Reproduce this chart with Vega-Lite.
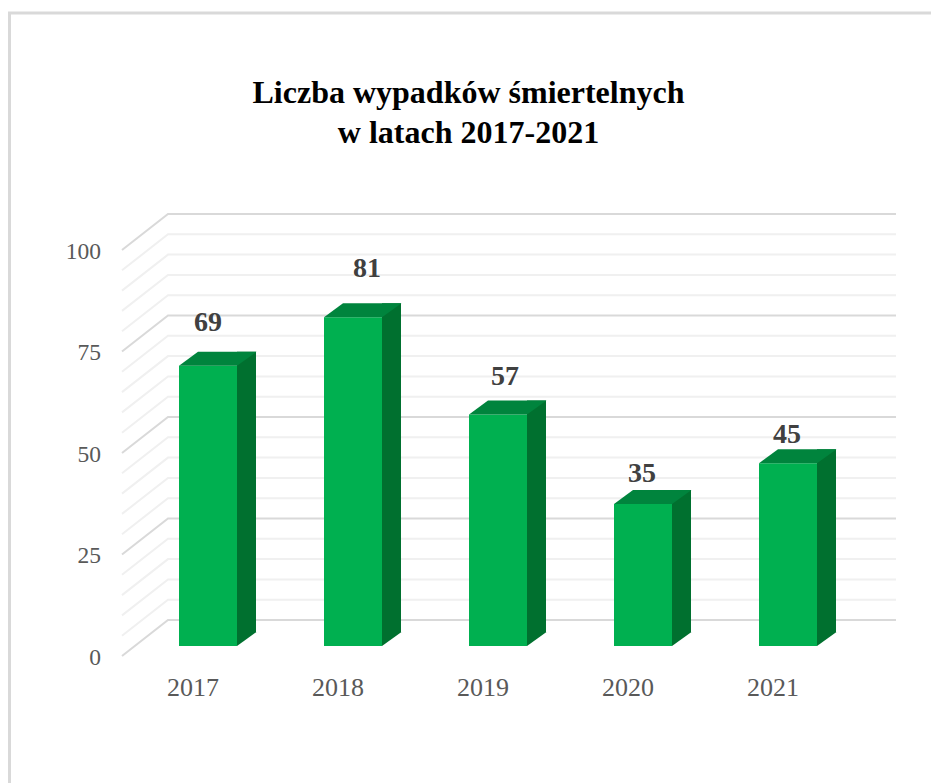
{
"$schema":"https://vega.github.io/schema/vega-lite/v6.json",
"width":725,"height":406,
"autosize":{"type":"none"},
"padding":{"left":135.5,"right":70.5,"top":240,"bottom":137},
"background":"white",
"config":{"view":{"stroke":null},"font":"Liberation Serif"},
"title":{"text":["Liczba wypadków śmiertelnych","w latach  2017-2021"],"font":"Liberation Serif","fontSize":32,"fontWeight":"bold","color":"#000000","anchor":"middle","frame":"group","dx":-29.5,"offset":-143,"lineHeight":40},
"datasets":{
"bars":[{"year":"2017","deaths":69},{"year":"2018","deaths":81},{"year":"2019","deaths":57},{"year":"2020","deaths":35},{"year":"2021","deaths":45}],
"grid":[{"level":0,"kind":"major"},{"level":5,"kind":"minor"},{"level":10,"kind":"minor"},{"level":15,"kind":"minor"},{"level":20,"kind":"minor"},{"level":25,"kind":"major"},{"level":30,"kind":"minor"},{"level":35,"kind":"minor"},{"level":40,"kind":"minor"},{"level":45,"kind":"minor"},{"level":50,"kind":"major"},{"level":55,"kind":"minor"},{"level":60,"kind":"minor"},{"level":65,"kind":"minor"},{"level":70,"kind":"minor"},{"level":75,"kind":"major"},{"level":80,"kind":"minor"},{"level":85,"kind":"minor"},{"level":90,"kind":"minor"},{"level":95,"kind":"minor"},{"level":100,"kind":"major"}]
},
"encoding":{
"x":{"field":"year","type":"ordinal","scale":{"domain":["2017","2018","2019","2020","2021"],"paddingInner":0,"paddingOuter":0},"axis":{"title":null,"domain":false,"ticks":false,"labelAngle":0,"labelFont":"Liberation Serif","labelFontSize":26,"labelColor":"#595959","labelPadding":28,"labelOffset":-15}},
"y":{"field":"deaths","type":"quantitative","scale":{"domain":[0,100],"nice":false},"axis":{"title":null,"domain":false,"ticks":false,"grid":false,"values":[0,25,50,75,100],"labelFont":"Liberation Serif","labelFontSize":23.5,"labelColor":"#595959","labelPadding":35,"labelOffset":11}}
},
"layer":[
{"data":{"values":[{"level":100}]},"mark":{"type":"point","shape":"M-198.5,543V-227H723","filled":false,"size":4,"opacity":1,"stroke":"#d9d9d9","strokeWidth":3},"encoding":{"x":{"datum":"2017"},"y":{"field":"level","type":"quantitative"}}},
{"data":{"name":"grid"},"mark":{"type":"point","shape":"M-86,10L-40,-26L688,-26","filled":false,"size":4,"opacity":1},"encoding":{"x":{"datum":"2017"},"y":{"field":"level","type":"quantitative"},"stroke":{"field":"kind","type":"nominal","scale":{"domain":["major","minor"],"range":["#d9d9d9","#f0f0f0"]},"legend":null},"strokeWidth":{"value":2}}},
{"data":{"name":"bars"},"mark":{"type":"bar","width":19,"xOffset":38.5,"yOffset":-14,"fill":"#00702f"}},
{"data":{"name":"bars"},"mark":{"type":"point","shape":"M29,0L48.5,-14L29,-14Z","filled":true,"size":4,"opacity":1,"fill":"#00702f","stroke":null},"encoding":{"y":{"datum":0}}},
{"data":{"name":"bars"},"mark":{"type":"bar","width":58,"fill":"#00b050"}},
{"data":{"name":"bars"},"mark":{"type":"point","shape":"M-29,0L29,0L48.5,-14L-10,-14Z","filled":true,"size":4,"opacity":1,"fill":"#00843d","stroke":null}},
{"data":{"name":"bars"},"transform":[{"filter":"datum.year==='2017'"}],"mark":{"type":"text","font":"Liberation Serif","fontWeight":"bold","fontSize":28,"fill":"#404040","baseline":"middle","dy":-43},"encoding":{"text":{"field":"deaths","type":"quantitative"}}},
{"data":{"name":"bars"},"transform":[{"filter":"datum.year==='2018'"}],"mark":{"type":"text","font":"Liberation Serif","fontWeight":"bold","fontSize":28,"fill":"#404040","baseline":"middle","dy":-48,"dx":14},"encoding":{"text":{"field":"deaths","type":"quantitative"}}},
{"data":{"name":"bars"},"transform":[{"filter":"datum.year==='2019'"}],"mark":{"type":"text","font":"Liberation Serif","fontWeight":"bold","fontSize":28,"fill":"#404040","baseline":"middle","dy":-38,"dx":7},"encoding":{"text":{"field":"deaths","type":"quantitative"}}},
{"data":{"name":"bars"},"transform":[{"filter":"datum.year==='2020'"}],"mark":{"type":"text","font":"Liberation Serif","fontWeight":"bold","fontSize":28,"fill":"#404040","baseline":"middle","dy":-30,"dx":-1},"encoding":{"text":{"field":"deaths","type":"quantitative"}}},
{"data":{"name":"bars"},"transform":[{"filter":"datum.year==='2021'"}],"mark":{"type":"text","font":"Liberation Serif","fontWeight":"bold","fontSize":28,"fill":"#404040","baseline":"middle","dy":-28,"dx":-1},"encoding":{"text":{"field":"deaths","type":"quantitative"}}}
]
}
